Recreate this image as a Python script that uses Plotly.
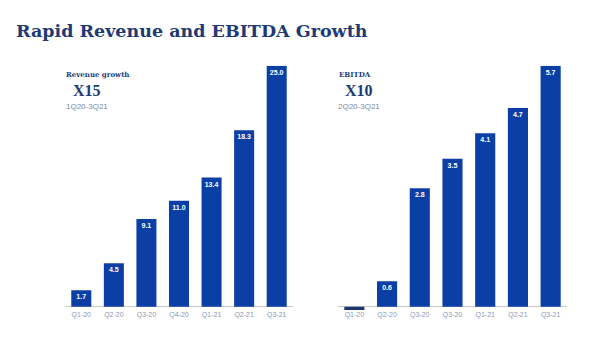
import plotly.graph_objects as go

rev_cats = ["Q1-20", "Q2-20", "Q3-20", "Q4-20", "Q1-21", "Q2-21", "Q3-21"]
rev_vals = [1.7, 4.5, 9.1, 11.0, 13.4, 18.3, 25.0]

ebitda_cats = ["Q1-20", "Q2-20", "Q3-20", "Q3-20", "Q1-21", "Q2-21", "Q3-21"]
ebitda_vals = [-0.08, 0.6, 2.8, 3.5, 4.1, 4.7, 5.7]

BLUE = "#0c3fa6"
NEG = "#1b3770"
NAVY = "#1d3a74"
TICK = "#8a9ab8"

def labels(vals):
    return [f"{v:.1f}" if v > 0 else "" for v in vals]

fig = go.Figure()
fig.add_trace(go.Bar(
    x=list(range(len(rev_cats))), y=rev_vals, text=labels(rev_vals),
    marker=dict(color=BLUE, line=dict(width=0)),
    textposition="inside", insidetextanchor="end", textangle=0,
    textfont=dict(family="Liberation Sans", size=7, color="white", weight="bold"),
    xaxis="x", yaxis="y", hoverinfo="skip"))
fig.add_trace(go.Bar(
    x=list(range(len(ebitda_cats))), y=ebitda_vals, text=labels(ebitda_vals),
    marker=dict(color=[NEG if v < 0 else BLUE for v in ebitda_vals], line=dict(width=0)),
    textposition="inside", insidetextanchor="end", textangle=0,
    textfont=dict(family="Liberation Sans", size=7, color="white", weight="bold"),
    xaxis="x2", yaxis="y2", hoverinfo="skip"))

ymin2 = -0.2
ymax2 = 5.7
ymax1 = 25.0
ymin1 = ymin2 * ymax1 / ymax2
ydom = [0.0675, 0.8056]

xcommon = dict(showgrid=False, zeroline=False, showline=False, ticks="",
               tickfont=dict(family="Liberation Sans", size=7, color=TICK),
               range=[-0.5, 6.5], ticklabelstandoff=-6)
ycommon = dict(showgrid=False, showticklabels=False, zeroline=True,
               zerolinecolor="#c8c8c8", zerolinewidth=1, domain=ydom)

fig.update_layout(
    width=600, height=338, margin=dict(l=0, r=0, t=0, b=0),
    paper_bgcolor="white", plot_bgcolor="rgba(0,0,0,0)",
    showlegend=False, bargap=0.385,
    xaxis=dict(xcommon, domain=[65/600, 293/600], anchor="y",
               tickvals=list(range(len(rev_cats))), ticktext=rev_cats),
    xaxis2=dict(xcommon, domain=[338/600, 567/600], anchor="y2",
                tickvals=list(range(len(ebitda_cats))), ticktext=ebitda_cats),
    yaxis=dict(ycommon, range=[ymin1, ymax1], anchor="x"),
    yaxis2=dict(ycommon, range=[ymin2, ymax2], anchor="x2"),
)

def ann(text, x, y, size, color, family, bold=False, xanchor="left"):
    fig.add_annotation(text=text, x=x, y=y, xref="paper", yref="paper",
                       xanchor=xanchor, yanchor="middle", showarrow=False,
                       font=dict(family=family, size=size, color=color,
                                 weight="bold" if bold else "normal"))

ann("Rapid Revenue and EBITDA Growth", 14/600, 1 - 31/338, 17.5, NAVY, "DejaVu Serif", True)
ann("Revenue growth", 64/600, 1 - 74/338, 7, NAVY, "DejaVu Serif", True)
ann("X15", 71/600, 1 - 91/338, 16, NAVY, "Liberation Serif", True)
ann("1Q20-3Q21", 64/600, 1 - 106/338, 8, "#7f8aa3", "Liberation Sans")
ann("EBITDA", 337/600, 1 - 74/338, 7, NAVY, "DejaVu Serif", True)
ann("X10", 343/600, 1 - 91/338, 16, NAVY, "Liberation Serif", True)
ann("2Q20-3Q21", 336/600, 1 - 106/338, 8, "#7f8aa3", "Liberation Sans")

fig.write_html("out.html")
